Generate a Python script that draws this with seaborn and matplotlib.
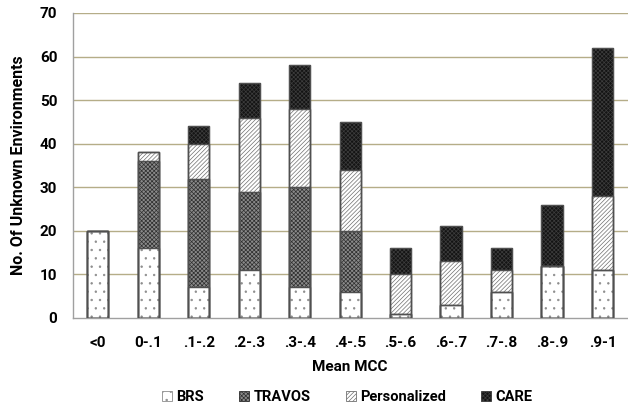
import numpy as np
import matplotlib
matplotlib.use("Agg")
import matplotlib.pyplot as plt
import seaborn as sns
import pandas as pd
from matplotlib.patches import Patch

categories = ["<0", "0-.1", ".1-.2", ".2-.3", ".3-.4", ".4-.5", ".5-.6", ".6-.7", ".7-.8", ".8-.9", ".9-1"]
brs          = [20, 16,  7, 11,  7,  6, 1, 3, 6, 12, 11]
travos       = [ 0, 20, 25, 18, 23, 14, 0, 0, 0,  0,  0]
personalized = [ 0,  2,  8, 17, 18, 14, 9, 10, 5, 0, 17]
care         = [ 0,  0,  4,  8, 10, 11, 6, 8, 5, 14, 34]
series_names = ["BRS", "TRAVOS", "Personalized", "CARE"]
yticks = [0, 10, 20, 30, 40, 50, 60, 70]

sns.set_style("white")
plt.rcParams["font.family"] = ["Roboto", "DejaVu Sans"]
plt.rcParams["font.weight"] = "bold"
plt.rcParams["hatch.linewidth"] = 0.5
plt.rcParams["text.color"] = "black"
plt.rcParams["axes.labelcolor"] = "black"
plt.rcParams["xtick.labelcolor"] = "black"
plt.rcParams["ytick.labelcolor"] = "black"

styles = {
    "BRS":          dict(face="#ffffff", edge="#8c8c8c", hatch=".."),
    "TRAVOS":       dict(face="#8a8a8a", edge="#2e2e2e", hatch="xxxxxxxx"),
    "Personalized": dict(face="#ffffff", edge="#707070", hatch="////////"),
    "CARE":         dict(face="#141414", edge="#3c3c3c", hatch="xxxxxxxx"),
}

vals = np.array([brs, travos, personalized, care], dtype=float)
cum = np.cumsum(vals, axis=0)

fig = plt.figure(figsize=(6.28, 4.11), dpi=100)
ax = fig.add_axes([0.1155, 0.2263, 0.884, 0.7421])

for yv in yticks[1:]:
    ax.axhline(yv, color="#b5ad88", lw=1.0, zorder=0)

# draw cumulative totals from the top series down so lower layers overlay
for i in range(3, -1, -1):
    name = series_names[i]
    st = styles[name]
    df = pd.DataFrame({"cat": categories, "val": cum[i]})
    sns.barplot(data=df, x="cat", y="val", order=categories, width=0.42,
                color=st["face"], saturation=1, edgecolor=st["edge"],
                hatch=st["hatch"], linewidth=0.8, ax=ax, zorder=2 + (3 - i))

# outlines of each segment
for i in range(4):
    df = pd.DataFrame({"cat": categories, "val": cum[i]})
    sns.barplot(data=df, x="cat", y="val", order=categories, width=0.42,
                fill=False, edgecolor="#505050", linewidth=1.0, ax=ax, zorder=10)

ax.set_xlim(-0.5, len(categories) - 0.5)
ax.set_ylim(0, 70)
ax.set_yticks(yticks)
ax.set_yticklabels([str(v) for v in yticks], fontsize=11, fontweight="bold")
ax.set_xticks(np.arange(len(categories)))
ax.set_xticklabels(categories, fontsize=11, fontweight="bold")
ax.tick_params(axis="x", length=0, pad=13)
ax.set_xticks(np.arange(len(categories) + 1) - 0.5, minor=True)
ax.tick_params(axis="x", which="minor", length=5, color="#a0a0a0", width=1)
ax.tick_params(axis="y", length=5, color="#a0a0a0", width=1, pad=6)

for s in ["top", "right"]:
    ax.spines[s].set_visible(False)
for s in ["left", "bottom"]:
    ax.spines[s].set_color("#a0a0a0")
    ax.spines[s].set_linewidth(1.0)

ax.set_xlabel("Mean MCC", fontsize=11, fontweight="bold", labelpad=7)
ax.set_ylabel("No. Of Unknown Environments", fontsize=11.5, fontweight="bold", labelpad=10)

handles = [Patch(facecolor=styles[n]["face"], edgecolor=styles[n]["edge"],
                 hatch=styles[n]["hatch"], linewidth=0.6, label=n) for n in series_names]
fig.legend(handles=handles, loc="center", bbox_to_anchor=(0.553, 0.033), ncol=4,
           frameon=False, handlelength=0.7, handleheight=0.7,
           handletextpad=0.3, columnspacing=2.4, prop={"weight": "bold", "size": 10.5})

fig.savefig("out.png", dpi=100)
